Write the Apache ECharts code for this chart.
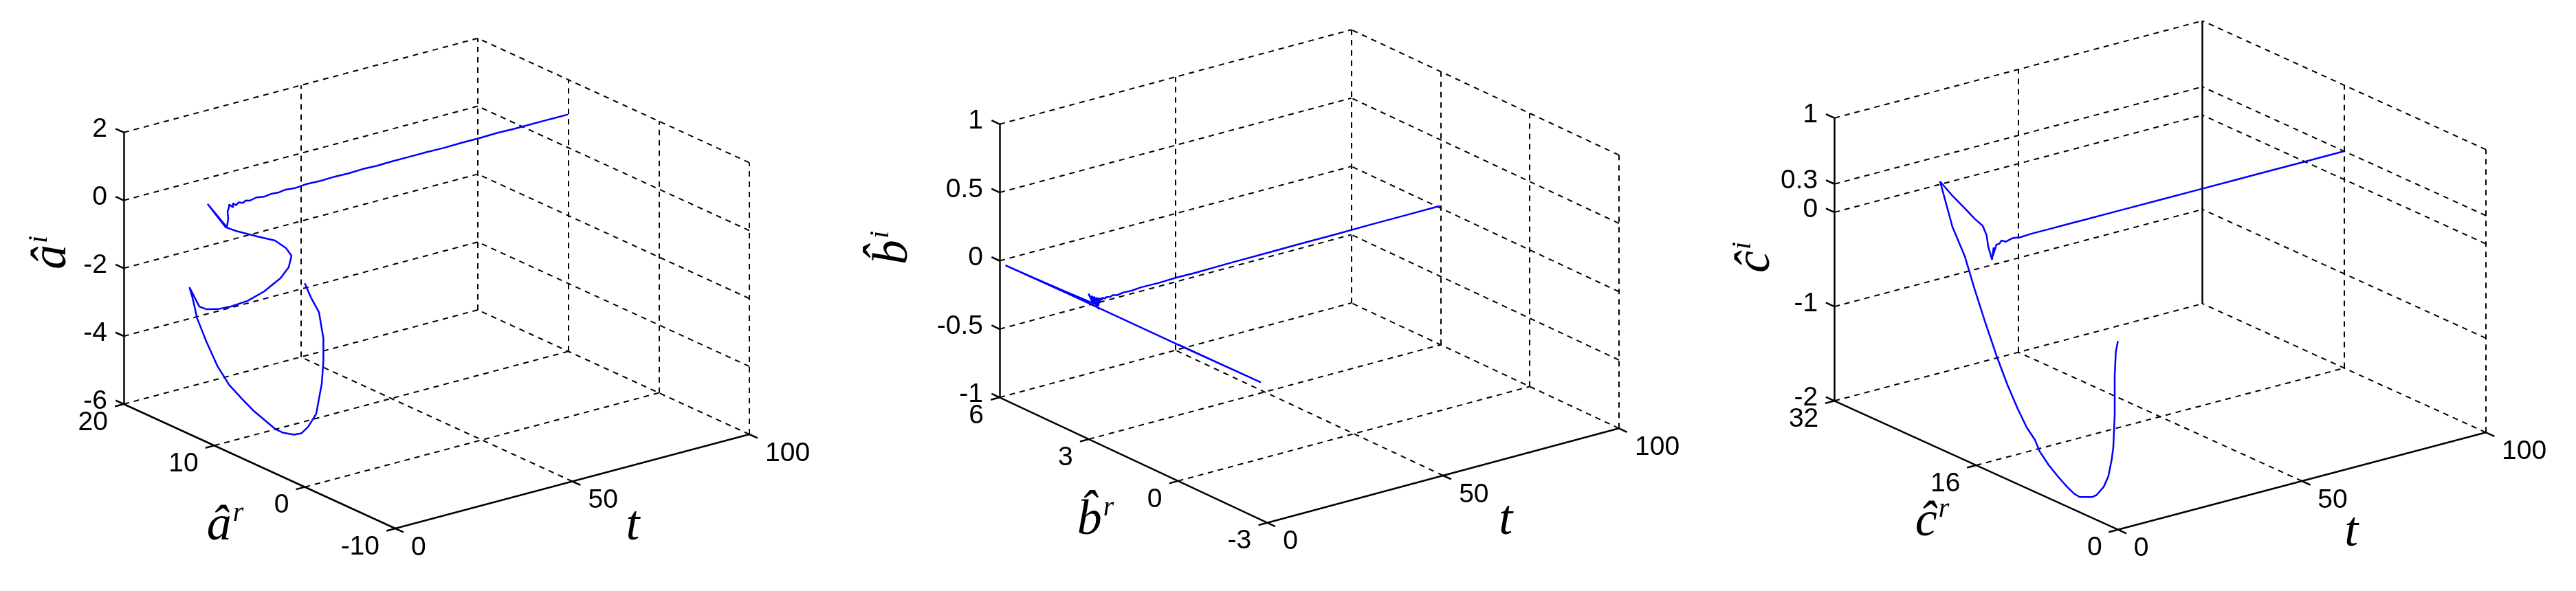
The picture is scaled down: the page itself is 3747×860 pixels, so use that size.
<!DOCTYPE html>
<html><head><meta charset="utf-8">
<script src="https://cdn.jsdelivr.net/npm/echarts@6/dist/echarts.min.js"></script>
<style>html,body{margin:0;padding:0;background:#fff}#c{width:3747px;height:860px}</style>
</head><body><div id="c"></div>
<script>
// ---------- tick labels ----------
const tTicks = [0, 50, 100];
const aReTicks = [-10, 0, 10, 20];
const aImTicks = [-6, -4, -2, 0, 2];
const bReTicks = [-3, 0, 3, 6];
const bImTicks = [-1, -0.5, 0, 0.5, 1];
const cReTicks = [0, 16, 32];
const cImTicks = [-2, -1, 0, 0.3, 1];

// ---------- series: estimate of a (t, real part, imaginary part) ----------
const aT = [0,0.05,0.12,0.22,0.32,0.42,0.55,0.65,0.72,0.8,0.88,0.95,1.03,1.1,1.18,1.27,1.36,1.45,1.55,1.62,1.68,1.75,1.82,1.9,2.0,2.1,2.2,2.3,2.38,2.46,2.54,2.62,2.72,2.85,2.95,3.1,3.3,3.5,3.7,4.0,
  4.5,5,5.5,6,7,8,9,10,12,14,16,18,20,23,26,30,34,38,42,46,50,55,60,65,70,75,80,85,90,95,100];
const aRe = [0,-0.64,-1.52,-1.97,-1.93,-1.71,-1.05,-0.10,0.66,1.48,2.72,3.66,4.91,6.15,7.40,8.85,10.15,11.45,12.50,13.04,13.40,12.33,11.60,10.36,8.93,7.15,5.37,3.58,2.70,2.43,3.07,4.32,6.18,8.66,9.91,11.95,9.90,9.82,9.98,9.94,
  10.12,9.88,10.09,9.93,10.06,9.95,10.05,9.97,10.04,9.98,10.03,9.99,10.03,10.0,10.04,10.01,10.03,10.02,10.05,10.02,10.04,10.03,10.05,10.04,10.05,10.04,10.06,10.05,10.05,10.06,10.05];
const aIm = [0,-0.33,-0.67,-1.39,-2.07,-2.76,-3.73,-4.24,-4.52,-4.66,-4.76,-4.76,-4.64,-4.52,-4.34,-4.11,-3.73,-3.15,-2.60,-2.06,-1.80,-2.24,-2.23,-2.08,-1.83,-1.45,-0.96,-0.35,0.08,0.45,0.59,0.66,0.54,0.40,0.36,0.79,0.35,0.61,0.79,0.91,
  0.96,0.89,0.97,0.92,0.96,0.93,0.96,0.94,0.97,0.94,0.96,0.95,0.97,0.95,0.97,0.96,0.97,0.96,0.97,0.96,0.97,0.97,0.97,0.96,0.97,0.97,0.98,0.97,0.97,0.97,0.97];

// ---------- series: estimate of b ----------
const bT = [0,0.15,0.3,0.45,0.6,0.75,0.9,1.1,1.3,1.6,1.75,1.9,2.05,2.2,2.4,2.6,2.8,3.0,3.3,3.6,4,4.5,5,6,7,8,10,12,15,20,25,30,40,50,60,70,80,90,100];
const bRe = [0,-1.4,-2.75,-0.4,1.6,3.8,5.91,5.0,4.0,3.05,3.22,2.88,3.15,2.92,3.12,2.95,3.08,2.97,3.05,2.99,3.03,2.98,3.02,3.0,3.02,2.99,3.01,3.0,3.02,3.01,3.02,3.01,3.02,3.02,3.03,3.02,3.03,3.03,3.03];
const bIm = [0,0,0,-0.01,-0.015,-0.02,-0.03,-0.028,-0.025,-0.02,0.03,-0.05,0.02,-0.03,0.015,-0.02,0.01,-0.01,0.005,-0.005,0.005,0,0.003,0,0.004,0,0.005,0.003,0.006,0.005,0.008,0.007,0.009,0.01,0.01,0.011,0.012,0.012,0.013];

// ---------- series: estimate of c ----------
const cT = [0,0.1,0.3,0.55,0.8,0.9,1.0,1.1,1.2,1.27,1.4,1.48,1.56,1.68,1.8,1.92,2.0,2.15,2.35,2.6,2.85,3.15,3.4,3.65,3.85,4.05,4.25,4.45,4.6,4.75,4.9,5.05,5.2,5.4,5.6,5.8,6.1,
  7,8,10,12,15,20,25,30,40,50,60,70,80,90,100];
const cRe = [0,0.28,0.49,0.59,0.85,1.07,1.50,2.06,2.88,3.43,4.90,5.58,6.39,7.48,8.56,9.64,10.20,11.19,12.28,13.55,14.82,16.26,17.61,18.80,20.28,21.76,20.44,19.11,18.10,17.24,16.86,16.74,16.37,16.27,16.43,16.12,15.93,
  16.05,15.97,16.03,15.99,16.02,16.0,16.01,16.0,16.0,16.0,16.0,16.0,16.0,16.0,16.0];
const cIm = [0,-0.127,-0.397,-0.803,-1.165,-1.309,-1.51,-1.645,-1.766,-1.814,-1.878,-1.871,-1.834,-1.772,-1.699,-1.60,-1.503,-1.416,-1.268,-1.069,-0.835,-0.535,-0.23,0.059,0.307,0.723,0.624,0.545,0.479,0.438,0.353,0.237,0.111,0.243,0.147,0.275,0.288,
  0.31,0.29,0.305,0.295,0.3,0.3,0.3,0.3,0.3,0.3,0.3,0.3,0.3,0.3,0.3];

// ---------- panel layout: oblique view of the 3-D box (pixel edge vectors) ----------
const panels = [
  { t: aT, re: aRe, im: aIm, reTicks: aReTicks, imTicks: aImTicks, sym: 'â',
    view: { F: [575, 769], T: [515, -137], R: [-395, -181], Z: [0, -395.3] },
    off: { z: [-104, -23], r: [-50, 88], t: [88, 66] }, solidBack: false },
  { t: bT, re: bRe, im: bIm, reTicks: bReTicks, imTicks: bImTicks, sym: 'b\u0302',
    view: { F: [1843.3, 760.7], T: [511.7, -137.4], R: [-389.3, -182.4], Z: [0, -397.6] },
    off: { z: [-154, -19], r: [-55, 89], t: [91, 66] }, solidBack: false },
  { t: cT, re: cRe, im: cIm, reTicks: cReTicks, imTicks: cImTicks, sym: 'ĉ',
    view: { F: [3080.7, 770.7], T: [535.3, -141.4], R: [-412.4, -187.4], Z: [0, -411.6] },
    off: { z: [-114, -3], r: [-64, 83], t: [72, 75] }, solidBack: true }
];

const TICK_FONT = '39px "Liberation Sans", Arial, sans-serif';
const SERIF = '"Liberation Serif", "Times New Roman", serif';
const rich = {
  m: { fontFamily: SERIF, fontStyle: 'italic', fontSize: 72, lineHeight: 78, fill: '#000' },
  s: { fontFamily: SERIF, fontStyle: 'italic', fontSize: 40, lineHeight: 78, verticalAlign: 'top', fill: '#000', padding: [0, 0, 0, 2] }
};

const grids = [], xAxes = [], yAxes = [], series = [];

panels.forEach((p, idx) => {
  const tmin = tTicks[0], tmax = tTicks[tTicks.length - 1];
  const rT = p.reTicks, zT = p.imTicks;
  const rmin = rT[0], rmax = rT[rT.length - 1], zmin = zT[0], zmax = zT[zT.length - 1];
  const v = p.view;
  const P = (t, r, z) => {
    const a = (t - tmin) / (tmax - tmin), b = (r - rmin) / (rmax - rmin), c = (z - zmin) / (zmax - zmin);
    return [a * v.T[0] + b * v.R[0] + c * v.Z[0], -(a * v.T[1] + b * v.R[1] + c * v.Z[1])];
  };
  const umin = v.R[0], umax = v.T[0], vmax = -(v.T[1] + v.R[1] + v.Z[1]);
  grids.push({ left: v.F[0] + umin, top: v.F[1] - vmax, width: umax - umin, height: vmax, containLabel: false });
  xAxes.push({ type: 'value', gridIndex: idx, min: umin, max: umax, show: false });
  yAxes.push({ type: 'value', gridIndex: idx, min: 0, max: vmax, show: false });

  const dashed = [], solid = [];
  const seg = (arr, A, B) => arr.push({ coords: [P(...A), P(...B)] });
  // floor (z = zmin)
  tTicks.forEach(t => { if (t !== tmin) seg(dashed, [t, rmin, zmin], [t, rmax, zmin]); });
  rT.forEach(r => { if (r !== rmin) seg(dashed, [tmin, r, zmin], [tmax, r, zmin]); });
  // back-left wall (r = rmax)
  zT.forEach(z => { if (z !== zmin) seg(dashed, [tmin, rmax, z], [tmax, rmax, z]); });
  tTicks.forEach(t => {
    if (t === tmin) return;
    if (t === tmax && p.solidBack) seg(solid, [t, rmax, zmin], [t, rmax, zmax]);
    else seg(dashed, [t, rmax, zmin], [t, rmax, zmax]);
  });
  // right wall (t = tmax)
  zT.forEach(z => { if (z !== zmin) seg(dashed, [tmax, rmin, z], [tmax, rmax, z]); });
  rT.forEach(r => { if (r !== rmax) seg(dashed, [tmax, r, zmin], [tmax, r, zmax]); });
  // axes
  seg(solid, [tmin, rmax, zmin], [tmin, rmax, zmax]);
  seg(solid, [tmin, rmin, zmin], [tmin, rmax, zmin]);
  seg(solid, [tmin, rmin, zmin], [tmax, rmin, zmin]);
  const dr = rmax - rmin, dt = tmax - tmin;
  zT.forEach(z => seg(solid, [tmin, rmax, z], [tmin, rmax + 0.03 * dr, z]));
  rT.forEach(r => seg(solid, [tmin, r, zmin], [tmin - 0.025 * dt, r, zmin]));
  tTicks.forEach(t => seg(solid, [t, rmin, zmin], [t, rmin - 0.03 * dr, zmin]));

  // labels
  const labels = [];
  zT.forEach(z => labels.push({ pos: P(tmin, rmax, z), text: String(z), dx: -24, dy: -4, align: 'right' }));
  rT.forEach(r => labels.push({ pos: P(tmin, r, zmin), text: String(r), dx: -23, dy: 27, align: 'right' }));
  tTicks.forEach(t => labels.push({ pos: P(t, rmin, zmin), text: String(t), dx: 23, dy: 28, align: 'left' }));
  const zm = (zmin + zmax) / 2, rm = (rmin + rmax) / 2, tm = (tmin + tmax) / 2;
  labels.push({ pos: P(tmin, rmax, zm), text: '{m|' + p.sym + '}{s|i}', dx: p.off.z[0], dy: p.off.z[1], align: 'center', rich: true, rot: Math.PI / 2 });
  labels.push({ pos: P(tmin, rm, zmin), text: '{m|' + p.sym + '}{s|r}', dx: p.off.r[0], dy: p.off.r[1], align: 'center', rich: true });
  labels.push({ pos: P(tm, rmin, zmin), text: '{m|t}', dx: p.off.t[0], dy: p.off.t[1], align: 'center', rich: true });

  const common = { xAxisIndex: idx, yAxisIndex: idx, silent: true, animation: false };
  series.push(Object.assign({ type: 'lines', coordinateSystem: 'cartesian2d', data: dashed, clip: false,
    lineStyle: { color: '#000', width: 2, type: [8, 7], opacity: 1, curveness: 0 }, z: 1 }, common));
  series.push(Object.assign({ type: 'lines', coordinateSystem: 'cartesian2d', data: solid, clip: false,
    lineStyle: { color: '#000', width: 2.5, type: 'solid', opacity: 1, curveness: 0 }, z: 2 }, common));
  series.push(Object.assign({ type: 'line', data: p.t.map((t, i) => P(t, p.re[i], p.im[i])), showSymbol: false, symbol: 'none',
    clip: false, lineStyle: { color: '#0000ff', width: 2.5 }, z: 3 }, common));
  series.push(Object.assign({ type: 'custom', data: labels.map(l => l.pos), encode: { x: 0, y: 1 }, z: 4,
    renderItem: (params, api) => {
      const L = labels[params.dataIndex];
      const pt = api.coord([api.value(0), api.value(1)]);
      const style = { text: L.text, fill: '#000', align: L.align, verticalAlign: 'middle' };
      if (L.rich) style.rich = rich; else style.font = TICK_FONT;
      return { type: 'text', x: pt[0] + L.dx, y: pt[1] + L.dy, rotation: L.rot || 0, style };
    } }, common));
});

const chart = echarts.init(document.getElementById('c'), null, { renderer: 'canvas', width: 3747, height: 860 });
chart.setOption({ backgroundColor: '#fff', animation: false, grid: grids, xAxis: xAxes, yAxis: yAxes, series });
</script>
</body></html>
